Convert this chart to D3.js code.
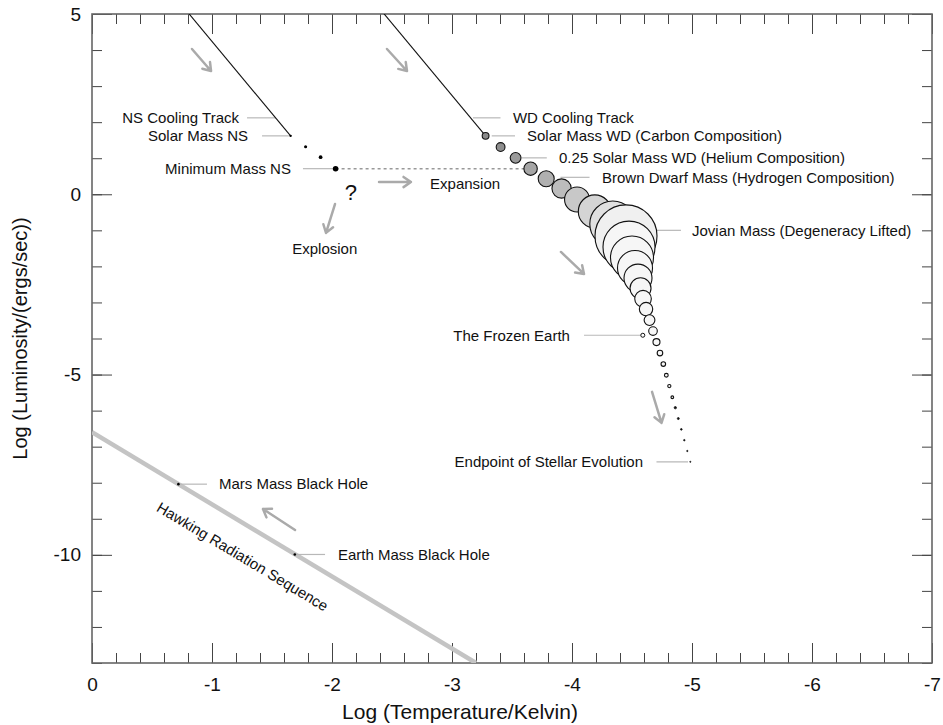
<!DOCTYPE html>
<html>
<head>
<meta charset="utf-8">
<script src="https://cdn.jsdelivr.net/npm/d3@7"></script>
<style>
    body { margin: 0; background: #fff; }
    svg { font-family: "Liberation Sans", Arial, Helvetica, sans-serif; }
</style>
</head>
<body>
<svg id="vis" width="943" height="725"></svg>
<script>

// ticks
const xTicks = [0, -1, -2, -3, -4, -5, -6, -7];
const yTicks = [5, 0, -5, -10];

// neutron star cooling track: end points of the line, then the dots
const nsTrack = [[-0.76, 5.2], [-1.655, 1.62]];
const nsTemp = [-1.655, -1.78, -1.905, -2.03];
const nsLum = [1.62, 1.32, 1.03, 0.71];
const nsSize = [0.04, 0.05, 0.06, 0.09];

// white dwarf cooling track line
const wdTrack = [[-2.385, 5.2], [-3.28, 1.62]];

// degenerate sequence (relative size: Jovian mass = 1)
const seqTemp = [-3.28, -3.405, -3.53, -3.655, -3.785, -3.913, -4.042, -4.19, -4.34, -4.45,
    -4.475, -4.5, -4.525, -4.55, -4.571, -4.592, -4.617, -4.646, -4.675, -4.704,
    -4.733, -4.761, -4.786, -4.811, -4.836, -4.861, -4.886, -4.911, -4.936, -4.961, -4.986];
const seqLum = [1.62, 1.31, 1.01, 0.71, 0.43, 0.16, -0.145, -0.475, -0.825, -1.155,
    -1.465, -1.755, -2.045, -2.325, -2.605, -2.895, -3.185, -3.49, -3.795, -4.1,
    -4.405, -4.71, -5.02, -5.32, -5.63, -5.92, -6.22, -6.52, -6.82, -7.12, -7.42];
const seqSize = [0.11, 0.142, 0.174, 0.216, 0.258, 0.31, 0.403, 0.532, 0.742, 1,
    0.839, 0.694, 0.565, 0.452, 0.339, 0.268, 0.216, 0.174, 0.139, 0.113,
    0.09, 0.074, 0.061, 0.052, 0.044, 0.037, 0.032, 0.027, 0.024, 0.021, 0.018];

const frozenEarth = {temp: -4.59, lum: -3.91, size: 0.065};

// Hawking radiation sequence
const hawkingLine = [[0, -6.6], [-3.2, -13]];
const bhNames = ["Mars", "Earth"];
const bhTemp = [-0.72, -1.69];
const bhLum = [-8.04, -9.99];

// labels with leader lines [text, anchor, textX, textY, leaderX1, leaderX2]
const labels = [
    ["NS Cooling Track", "end", -1.225, 2.12, -1.292, -1.533],
    ["Solar Mass NS", "end", -1.3, 1.62, -1.417, -1.64],
    ["Minimum Mass NS", "end", -1.658, 0.71, -1.758, -2.01],
    ["WD Cooling Track", "start", -3.508, 2.12, -3.175, -3.404],
    ["Solar Mass WD (Carbon Composition)", "start", -3.625, 1.62, -3.331, -3.525],
    ["0.25 Solar Mass WD (Helium Composition)", "start", -3.892, 1.01, -3.581, -3.79],
    ["Brown Dwarf Mass (Hydrogen Composition)", "start", -4.25, 0.47, -3.904, -4.146],
    ["Jovian Mass (Degeneracy Lifted)", "start", -5.0, -1.0, -4.708, -4.908],
    ["The Frozen Earth", "end", -3.983, -3.91, -4.1, -4.575],
    ["Endpoint of Stellar Evolution", "end", -4.592, -7.42, -4.704, -4.967],
    ["Mars Mass Black Hole", "start", -1.058, -8.04, -0.733, -0.958],
    ["Earth Mass Black Hole", "start", -2.05, -9.99, -1.7, -1.942]
];

// direction arrows [x1, y1, x2, y2]
const arrows = [
    [-0.833, 4.03, -0.992, 3.42],
    [-2.458, 4.03, -2.625, 3.42],
    [-2.392, 0.34, -2.658, 0.34],
    [-2.025, -0.27, -1.95, -1.07],
    [-3.908, -1.6, -4.1, -2.21],
    [-4.667, -5.48, -4.746, -6.34],
    [-1.692, -9.31, -1.425, -8.73]
];

const svg = d3.select('#vis');
const plotLeft = 92, plotRight = 932, plotTop = 14, plotBottom = 663;

const x = d3.scaleLinear().domain([0, -7]).range([plotLeft, plotRight]);
const y = d3.scaleLinear().domain([5, -13]).range([plotTop, plotBottom]);
const r = d3.scaleLinear().domain([0, 1]).range([0, 31]);

const seqFill = d3.scaleLinear()
    .domain([0, 1, 2, 3, 4, 5, 6, 7, 8, 9, 10])
    .range(["#8a8a8a", "#8e8e8e", "#9a9a9a", "#a6a6a6", "#b0b0b0", "#bcbcbc", "#c8c8c8", "#d4d4d4", "#e0e0e0", "#f0f0f0", "#f6f6f6"])
    .clamp(true);

svg.append("clipPath").attr("id", "plot-clip")
    .append("rect")
    .attr("x", plotLeft).attr("y", plotTop)
    .attr("width", plotRight - plotLeft).attr("height", plotBottom - plotTop);

// axes: minor and major ticks on all four sides, pointing inward
var xMinor = d3.range(0, -7.01, -0.2);
var yMinor = d3.range(5, -13.01, -1);

function drawAxis(axisFn, scale, values, size, transform, withLabels, pad) {
    var g = svg.append("g")
        .attr("transform", transform)
        .call(axisFn(scale)
            .tickValues(values)
            .tickSize(size)
            .tickPadding(pad || 3)
            .tickFormat(withLabels ? function (d) { return String(d); } : ""));
    g.select(".domain").remove();
    g.selectAll("line").attr("stroke", "#444").attr("stroke-width", 1);
    g.selectAll("text")
        .attr("fill", "#111")
        .style("font-size", "19px")
        .style("font-family", "'Liberation Sans', Arial, sans-serif");
    return g;
}

drawAxis(d3.axisBottom, x, xMinor, -10, "translate(0," + plotBottom + ")", false);
drawAxis(d3.axisBottom, x, xTicks, -20, "translate(0," + plotBottom + ")", true, 15);
drawAxis(d3.axisTop, x, xMinor, -10, "translate(0," + plotTop + ")", false);
drawAxis(d3.axisTop, x, xTicks, -20, "translate(0," + plotTop + ")", false);
drawAxis(d3.axisLeft, y, yMinor, -10, "translate(" + plotLeft + ",0)", false);
drawAxis(d3.axisLeft, y, yTicks, -20, "translate(" + plotLeft + ",0)", true, 11);
drawAxis(d3.axisRight, y, yMinor, -10, "translate(" + plotRight + ",0)", false);
drawAxis(d3.axisRight, y, yTicks, -20, "translate(" + plotRight + ",0)", false);

// frame
svg.append("rect")
    .attr("x", plotLeft).attr("y", plotTop)
    .attr("width", plotRight - plotLeft).attr("height", plotBottom - plotTop)
    .attr("fill", "none")
    .attr("stroke", "#666")
    .attr("stroke-width", 1.6);

// axis titles
svg.append("text")
    .attr("x", 460).attr("y", 719)
    .attr("text-anchor", "middle")
    .attr("fill", "#111")
    .style("font-size", "21px")
    .text("Log (Temperature/Kelvin)");

svg.append("text")
    .attr("transform", "translate(27," + ((plotTop + plotBottom) / 2) + ") rotate(-90)")
    .attr("text-anchor", "middle")
    .attr("fill", "#111")
    .style("font-size", "20px")
    .text("Log (Luminosity/(ergs/sec))");

var plot = svg.append("g").attr("clip-path", "url(#plot-clip)");

var line = d3.line()
    .x(function (d) { return x(d[0]); })
    .y(function (d) { return y(d[1]); });

// Hawking radiation sequence
plot.append("path")
    .datum(hawkingLine)
    .attr("d", line)
    .attr("fill", "none")
    .attr("stroke", "#c4c4c4")
    .attr("stroke-width", 4.5);

// leader lines
plot.selectAll(".leader")
    .data(labels)
    .enter().append("line")
    .attr("class", "leader")
    .attr("x1", function (d) { return x(d[4]); })
    .attr("x2", function (d) { return x(d[5]); })
    .attr("y1", function (d) { return y(d[3]); })
    .attr("y2", function (d) { return y(d[3]); })
    .attr("stroke", "#b8b8b8")
    .attr("stroke-width", 1.2);

// expansion: minimum mass NS over to the white dwarf sequence
plot.append("line")
    .attr("x1", x(nsTemp[3])).attr("x2", x(seqTemp[3]))
    .attr("y1", y(nsLum[3])).attr("y2", y(nsLum[3]))
    .attr("stroke", "#999")
    .attr("stroke-width", 1.5)
    .attr("stroke-dasharray", "3,3");

// cooling tracks
[nsTrack, wdTrack].forEach(function (t) {
    plot.append("path")
        .datum(t)
        .attr("d", line)
        .attr("fill", "none")
        .attr("stroke", "#111")
        .attr("stroke-width", 1.1);
});

// neutron star dots
plot.selectAll(".ns")
    .data(nsTemp)
    .enter().append("circle")
    .attr("class", "ns")
    .attr("cx", function (d) { return x(d); })
    .attr("cy", function (d, i) { return y(nsLum[i]); })
    .attr("r", function (d, i) { return r(nsSize[i]); })
    .attr("fill", "#000");

// degenerate sequence
plot.selectAll(".seq")
    .data(seqTemp)
    .enter().append("circle")
    .attr("class", "seq")
    .attr("cx", function (d) { return x(d); })
    .attr("cy", function (d, i) { return y(seqLum[i]); })
    .attr("r", function (d, i) { return r(seqSize[i]); })
    .attr("fill", function (d, i) { return seqSize[i] < 0.04 ? "#111" : seqFill(i); })
    .attr("stroke", "#111")
    .attr("stroke-width", function (d, i) { return seqSize[i] < 0.04 ? 0.8 : 1.1; });

plot.append("circle")
    .attr("cx", x(frozenEarth.temp))
    .attr("cy", y(frozenEarth.lum))
    .attr("r", r(frozenEarth.size))
    .attr("fill", "#fff")
    .attr("stroke", "#111")
    .attr("stroke-width", 1);

// black holes
plot.selectAll(".bh")
    .data(bhTemp)
    .enter().append("circle")
    .attr("class", "bh")
    .attr("cx", function (d) { return x(d); })
    .attr("cy", function (d, i) { return y(bhLum[i]); })
    .attr("r", 1.3)
    .attr("fill", "#000");

// labels
svg.selectAll(".label")
    .data(labels)
    .enter().append("text")
    .attr("class", "label")
    .attr("x", function (d) { return x(d[2]); })
    .attr("y", function (d) { return y(d[3]); })
    .attr("dy", "0.35em")
    .attr("text-anchor", function (d) { return d[1]; })
    .attr("fill", "#111")
    .style("font-size", "15px")
    .text(function (d) { return d[0]; });

svg.append("text")
    .attr("x", x(-2.817)).attr("y", y(0.28))
    .attr("dy", "0.35em")
    .attr("fill", "#111")
    .style("font-size", "15px")
    .text("Expansion");

svg.append("text")
    .attr("x", x(-1.94)).attr("y", y(-1.517))
    .attr("dy", "0.35em")
    .attr("text-anchor", "middle")
    .attr("fill", "#111")
    .style("font-size", "15px")
    .text("Explosion");

svg.append("text")
    .attr("x", x(-2.158)).attr("y", y(0.064))
    .attr("dy", "0.36em")
    .attr("text-anchor", "middle")
    .attr("fill", "#111")
    .style("font-size", "22px")
    .text("?");

// Hawking label, rotated along the sequence
var hAngle = Math.atan2(y(hawkingLine[1][1]) - y(hawkingLine[0][1]),
    x(hawkingLine[1][0]) - x(hawkingLine[0][0])) * 180 / Math.PI;
svg.append("text")
    .attr("transform", "translate(" + x(-1.254) + "," + y(-10.05) + ") rotate(" + hAngle + ")")
    .attr("dy", "0.35em")
    .attr("text-anchor", "middle")
    .attr("fill", "#111")
    .style("font-size", "15px")
    .text("Hawking Radiation Sequence");

// arrows
function arrowPath(d) {
    var x1 = x(d[0]), y1 = y(d[1]), x2 = x(d[2]), y2 = y(d[3]);
    var a = Math.atan2(y2 - y1, x2 - x1);
    var len = 9, spread = 0.6;
    return "M" + x1 + "," + y1 + "L" + x2 + "," + y2 +
        "M" + (x2 - len * Math.cos(a - spread)) + "," + (y2 - len * Math.sin(a - spread)) +
        "L" + x2 + "," + y2 +
        "L" + (x2 - len * Math.cos(a + spread)) + "," + (y2 - len * Math.sin(a + spread));
}

svg.selectAll(".arrow")
    .data(arrows)
    .enter().append("path")
    .attr("class", "arrow")
    .attr("d", arrowPath)
    .attr("fill", "none")
    .attr("stroke", "#aaa")
    .attr("stroke-width", 2.5)
    .attr("stroke-linecap", "round")
    .attr("stroke-linejoin", "round");

</script>
</body>
</html>
